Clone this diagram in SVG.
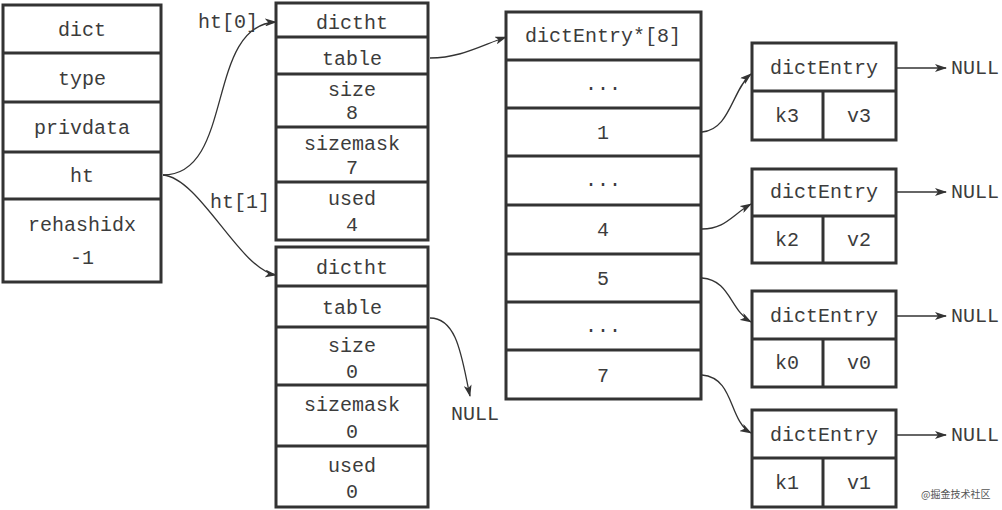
<svg xmlns="http://www.w3.org/2000/svg" width="1002" height="510" viewBox="0 0 1002 510">
<defs>
<marker id="ah" viewBox="0 0 12 8" refX="11" refY="4" markerWidth="12" markerHeight="8" markerUnits="userSpaceOnUse" orient="auto">
<path d="M0,0 L12,4 L0,8 L3,4 Z" fill="#333"/>
</marker>
</defs>
<style>
.box{fill:#fff;stroke:#333;stroke-width:3}
.ln{stroke:#333;stroke-width:3}
.t{font-family:"Liberation Mono","DejaVu Sans Mono",monospace;font-size:20px;fill:#3c3c3c;text-anchor:middle;dominant-baseline:central}
.c{fill:none;stroke:#333;stroke-width:1.3}
.wm{font-family:"Noto Sans CJK SC",sans-serif;font-size:10px;fill:#555}
</style>
<rect width="1002" height="510" fill="#fff"/>
<g id="dict">
<rect class="box" x="3" y="5" width="158" height="277"/>
<line class="ln" x1="3" y1="53" x2="161" y2="53"/>
<line class="ln" x1="3" y1="102" x2="161" y2="102"/>
<line class="ln" x1="3" y1="152" x2="161" y2="152"/>
<line class="ln" x1="3" y1="199" x2="161" y2="199"/>
<text class="t" x="82" y="30">dict</text>
<text class="t" x="82" y="79">type</text>
<text class="t" x="82" y="128">privdata</text>
<text class="t" x="82" y="176">ht</text>
<text class="t" x="82" y="225">rehashidx</text>
<text class="t" x="82" y="258">-1</text>
</g>
<g id="ht0">
<rect class="box" x="276" y="3" width="152" height="237"/>
<line class="ln" x1="276" y1="37" x2="428" y2="37"/>
<line class="ln" x1="276" y1="74" x2="428" y2="74"/>
<line class="ln" x1="276" y1="127" x2="428" y2="127"/>
<line class="ln" x1="276" y1="182" x2="428" y2="182"/>
<text class="t" x="352" y="23">dictht</text>
<text class="t" x="352" y="59">table</text>
<text class="t" x="352" y="90">size</text>
<text class="t" x="352" y="113">8</text>
<text class="t" x="352" y="144">sizemask</text>
<text class="t" x="352" y="168">7</text>
<text class="t" x="352" y="199">used</text>
<text class="t" x="352" y="225">4</text>
</g>
<g id="ht1">
<rect class="box" x="276" y="247" width="152" height="260"/>
<line class="ln" x1="276" y1="286" x2="428" y2="286"/>
<line class="ln" x1="276" y1="327" x2="428" y2="327"/>
<line class="ln" x1="276" y1="385" x2="428" y2="385"/>
<line class="ln" x1="276" y1="446" x2="428" y2="446"/>
<text class="t" x="352" y="268">dictht</text>
<text class="t" x="352" y="308">table</text>
<text class="t" x="352" y="346">size</text>
<text class="t" x="352" y="372">0</text>
<text class="t" x="352" y="405">sizemask</text>
<text class="t" x="352" y="432">0</text>
<text class="t" x="352" y="466">used</text>
<text class="t" x="352" y="492">0</text>
</g>
<g id="null1">
<text class="t" x="475" y="414">NULL</text>
</g>
<g id="table">
<rect class="box" x="506" y="12" width="195" height="387"/>
<line class="ln" x1="506" y1="60" x2="701" y2="60"/>
<line class="ln" x1="506" y1="108" x2="701" y2="108"/>
<line class="ln" x1="506" y1="156" x2="701" y2="156"/>
<line class="ln" x1="506" y1="205" x2="701" y2="205"/>
<line class="ln" x1="506" y1="254" x2="701" y2="254"/>
<line class="ln" x1="506" y1="302" x2="701" y2="302"/>
<line class="ln" x1="506" y1="350" x2="701" y2="350"/>
<text class="t" x="603" y="36">dictEntry*[8]</text>
<text class="t" x="603" y="84">...</text>
<text class="t" x="603" y="133">1</text>
<text class="t" x="603" y="180">...</text>
<text class="t" x="603" y="230">4</text>
<text class="t" x="603" y="279">5</text>
<text class="t" x="603" y="326">...</text>
<text class="t" x="603" y="376">7</text>
</g>
<g id="e3">
<rect class="box" x="752" y="43" width="144" height="97"/>
<line class="ln" x1="752" y1="91" x2="896" y2="91"/>
<line class="ln" x1="823" y1="91" x2="823" y2="140"/>
<text class="t" x="824" y="68">dictEntry</text>
<text class="t" x="787" y="116">k3</text>
<text class="t" x="859" y="116">v3</text>
<text class="t" x="975" y="68">NULL</text>
</g>
<g id="e2">
<rect class="box" x="752" y="169" width="144" height="94"/>
<line class="ln" x1="752" y1="216" x2="896" y2="216"/>
<line class="ln" x1="823" y1="216" x2="823" y2="263"/>
<text class="t" x="824" y="192">dictEntry</text>
<text class="t" x="787" y="240">k2</text>
<text class="t" x="859" y="240">v2</text>
<text class="t" x="975" y="192">NULL</text>
</g>
<g id="e0">
<rect class="box" x="752" y="291" width="144" height="96"/>
<line class="ln" x1="752" y1="339" x2="896" y2="339"/>
<line class="ln" x1="823" y1="339" x2="823" y2="387"/>
<text class="t" x="824" y="316">dictEntry</text>
<text class="t" x="787" y="363">k0</text>
<text class="t" x="859" y="363">v0</text>
<text class="t" x="975" y="316">NULL</text>
</g>
<g id="e1">
<rect class="box" x="752" y="410" width="144" height="97"/>
<line class="ln" x1="752" y1="458" x2="896" y2="458"/>
<line class="ln" x1="823" y1="458" x2="823" y2="507"/>
<text class="t" x="824" y="435">dictEntry</text>
<text class="t" x="787" y="483">k1</text>
<text class="t" x="859" y="483">v1</text>
<text class="t" x="975" y="435">NULL</text>
</g>
<g id="connectors">
<path class="c" d="M163,175 C235,175 205,25 276,22" marker-end="url(#ah)"/>
<path class="c" d="M163,175 C200,178 240,270 276,275" marker-end="url(#ah)"/>
<text class="t" x="228" y="22">ht[0]</text>
<text class="t" x="240" y="202">ht[1]</text>
<path class="c" d="M430,58 C460,58 480,46 506,37" marker-end="url(#ah)"/>
<path class="c" d="M430,318 C458,318 462,360 470,396" marker-end="url(#ah)"/>
<path class="c" d="M702,132 C730,130 732,90 751,74" marker-end="url(#ah)"/>
<path class="c" d="M702,229 C725,229 732,215 751,204" marker-end="url(#ah)"/>
<path class="c" d="M702,278 C730,280 730,310 751,322" marker-end="url(#ah)"/>
<path class="c" d="M702,375 C735,378 728,420 751,433" marker-end="url(#ah)"/>
<line class="c" x1="897" y1="68" x2="946" y2="68" marker-end="url(#ah)"/>
<line class="c" x1="897" y1="192" x2="946" y2="192" marker-end="url(#ah)"/>
<line class="c" x1="897" y1="316" x2="946" y2="316" marker-end="url(#ah)"/>
<line class="c" x1="897" y1="435" x2="946" y2="435" marker-end="url(#ah)"/>
</g>
<text class="wm" x="921" y="498">@掘金技术社区</text>
</svg>
